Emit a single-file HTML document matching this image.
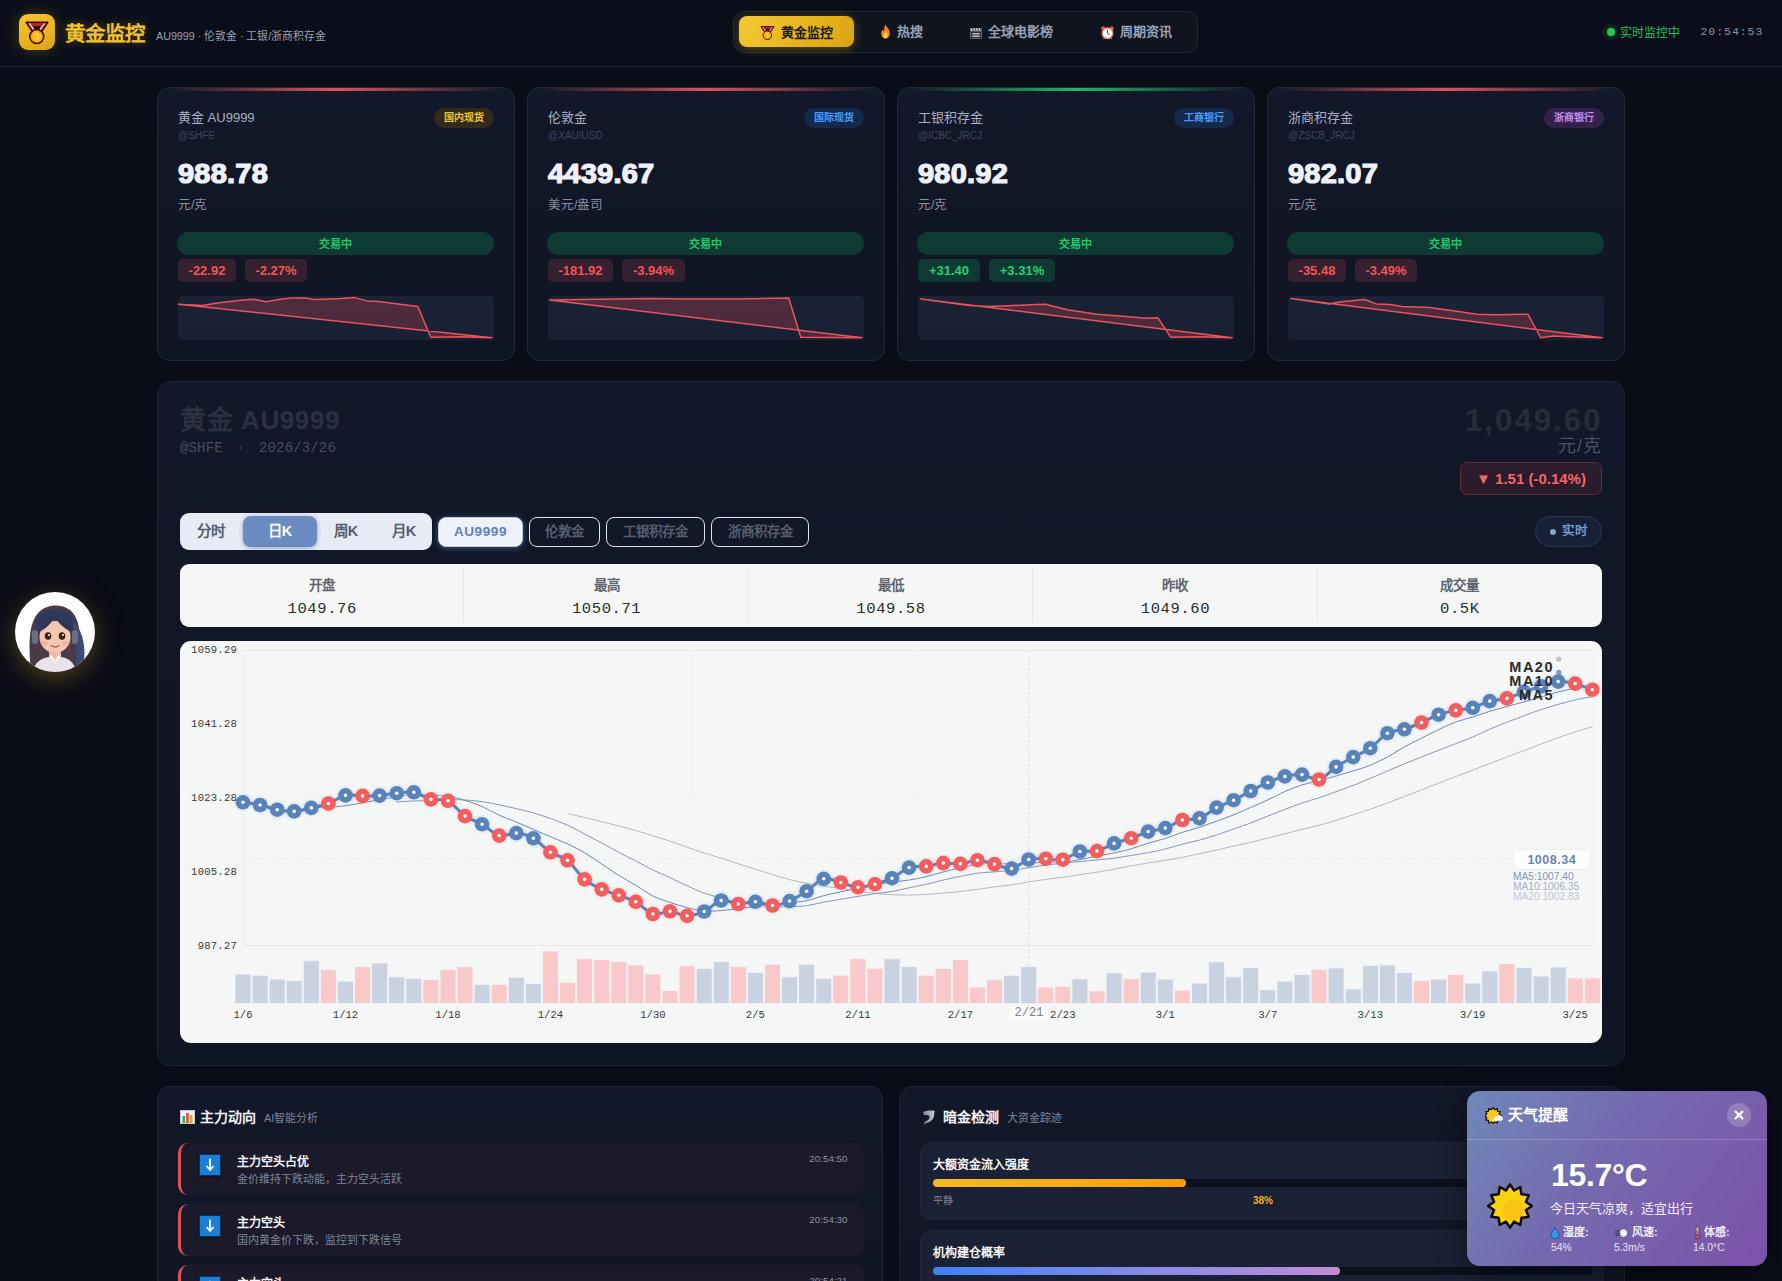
<!DOCTYPE html>
<html lang="zh-CN">
<head>
<meta charset="utf-8">
<title>黄金监控</title>
<style>
*{box-sizing:border-box;margin:0;padding:0}
html,body{width:1782px;height:1281px;overflow:hidden;background:#0a0c18}
body{font-family:"Liberation Sans",sans-serif;color:#e6e9f2;position:relative}
.abs{position:absolute}
.mono{font-family:"Liberation Mono",monospace}
/* header */
.hdr{position:absolute;left:0;top:0;width:1782px;height:67px;background:#0b0e1a;border-bottom:1px solid #1e2233}
.logo{position:absolute;left:19px;top:14px;width:36px;height:36px;border-radius:9px;background:linear-gradient(160deg,#f3c537 0%,#eab21f 60%,#dca315 100%);box-shadow:0 0 14px rgba(234,179,8,.28)}
.title{position:absolute;left:64.5px;top:20px;font-size:20.5px;font-weight:700;color:#f2c230;letter-spacing:0;text-shadow:0 0 10px rgba(242,194,48,.3);line-height:28px;white-space:nowrap}
.subtitle{position:absolute;left:156px;top:28px;font-size:10.8px;letter-spacing:-.05px;color:#9aa1b4;line-height:16px;white-space:nowrap}
.nav{position:absolute;left:733px;top:11px;width:465px;height:42px;border-radius:11px;background:#10141f;border:1px solid #232838}
.tab{position:absolute;top:4px;height:32px;line-height:32px;font-size:13px;font-weight:700;color:#98a0b5;white-space:nowrap}
.tab.on{left:5px;width:115px;height:31px;line-height:31px;border-radius:8px;background:linear-gradient(120deg,#f4c935,#e3ae17 70%,#d9a414);color:#1a1a1a;box-shadow:0 2px 10px rgba(234,179,8,.35)}
.tab svg{position:absolute}
.live{position:absolute;left:1620px;top:24.5px;font-size:12px;color:#21c063;line-height:16px;white-space:nowrap}
.livedot{position:absolute;left:1607px;top:28px;width:8px;height:8px;border-radius:50%;background:#22c55e;box-shadow:0 0 6px rgba(34,197,94,.7)}
.clock{position:absolute;left:1700.5px;top:24px;font-size:11.5px;color:#8a90a0;line-height:16px;letter-spacing:.95px;white-space:nowrap}
/* price cards */
.card{position:absolute;top:87px;width:358px;height:274px;border-radius:12.5px;background:linear-gradient(180deg,#121829,#0f1524);border:1px solid #222939;overflow:hidden}
.card .bar{position:absolute;left:0;top:0;width:100%;height:3px}
.card .nm{position:absolute;left:20px;top:21px;font-size:13px;color:#a9b0c2;line-height:18px;white-space:nowrap}
.card .src{position:absolute;left:20px;top:42px;font-size:10px;color:#3f4659;line-height:12px;white-space:nowrap}
.card .badge{position:absolute;right:20px;top:20px;height:20px;line-height:20px;padding:0 10px;border-radius:10px;font-size:10px;font-weight:700;white-space:nowrap}
.card .px{position:absolute;left:20px;top:69px;font-size:27px;font-weight:700;color:#eef1fa;line-height:34px;letter-spacing:.2px;-webkit-text-stroke:1.2px #eef1fa;white-space:nowrap;transform:scaleX(1.075);transform-origin:0 50%}
.card .unit{position:absolute;left:20px;top:109px;font-size:12.5px;color:#8a91a4;line-height:16px}
.card .st{position:absolute;left:19px;top:144px;width:317px;height:23px;border-radius:12px;background:#0f3a33;color:#25c66b;font-size:11px;font-weight:700;text-align:center;line-height:24.5px}
.chip{position:absolute;top:171px;height:23px;line-height:24px;border-radius:5px;font-size:13px;font-weight:700;text-align:center;white-space:nowrap}
.chip.dn{background:#35202f;color:#f25557}
.chip.up{background:#0f3a33;color:#27cf70}
.spark{position:absolute;left:20px;top:208px;width:315.500px;height:44px;border-radius:5px;background:linear-gradient(180deg,#1a2235,#182133);overflow:hidden}
</style>
</head>
<body>
<!-- HEADER -->
<div class="hdr">
  <div class="logo"><svg width="28" height="28" viewBox="0 0 24 24" style="position:absolute;left:4px;top:4px"><path d="M2.700 3.700h18.600L15.400 12.600H8.600z" fill="#b3242c" stroke="#3a0d10" stroke-width="1.300" stroke-linejoin="round"/><path d="M5.400 4.600L9.900 11M18.600 4.600L14.300 10.400" stroke="#f9dcd8" stroke-width="1.100"/><path d="M8.900 6.900h6.200L13.600 10.300h-3.200z" fill="#2a090b"/><circle cx="11.800" cy="15.900" r="6" fill="#f4a614" stroke="#3a0d10" stroke-width="1.300"/><circle cx="11.800" cy="15.900" r="4.100" fill="#fbb91e"/><path d="M11 13.900l1.400-.6v5.200" stroke="#f9d766" stroke-width="1.200" fill="none"/></svg></div>
  <div class="title">黄金监控</div>
  <div class="subtitle">AU9999 · 伦敦金 · 工银/浙商积存金</div>
  <div class="nav">
    <div class="tab on"><span style="position:absolute;left:42px;top:.5px">黄金监控</span><svg width="17" height="17" viewBox="0 0 24 24" style="position:absolute;left:20px;top:8px"><path d="M2.700 3.700h18.600L15.400 12.600H8.600z" fill="#b3242c" stroke="#3a0d10" stroke-width="1.300" stroke-linejoin="round"/><path d="M5.400 4.600L9.900 11M18.600 4.600L14.300 10.400" stroke="#f9dcd8" stroke-width="1.100"/><path d="M8.900 6.900h6.200L13.600 10.300h-3.200z" fill="#2a090b"/><circle cx="11.800" cy="15.900" r="6" fill="#f4a614" stroke="#3a0d10" stroke-width="1.300"/><circle cx="11.800" cy="15.900" r="4.100" fill="#fbb91e"/><path d="M11 13.900l1.400-.6v5.200" stroke="#f9d766" stroke-width="1.200" fill="none"/></svg></div>
    <div class="tab" style="left:162.5px">热搜</div><svg width="13" height="15" viewBox="0 0 13 15" style="position:absolute;left:145px;top:12px"><path d="M6.5 0.5C7.5 3 10.8 5 10.8 9.2c0 3-2 5.3-4.3 5.3S2.2 12.2 2.2 9.4c0-1.8.9-3.1 1.7-4 .2 1 .7 1.6 1.2 1.8C5 5 5.400 2.500 6.5.5z" fill="#f4801f"/><path d="M6.500 7.200c.8 1.300 2.100 2.200 2.100 4.100 0 1.700-1 2.900-2.100 2.900s-2.100-1.200-2.100-2.700c0-1.700 1.400-2.600 2.100-4.300z" fill="#fdd13a"/></svg>
    <div class="tab" style="left:254px">全球电影榜</div><svg width="14" height="13" viewBox="0 0 14 13" style="position:absolute;left:235px;top:14px"><rect x="1.500" y="5.200" width="11" height="7.300" rx=".8" fill="#2b2e38" stroke="#8b909c" stroke-width=".6"/><path d="M1.500 2.200h11v2.600h-11z" fill="#e8eaee"/><path d="M3 2.200l1.600 2.600M5.800 2.200l1.600 2.600M8.600 2.200l1.600 2.600M11.300 2.200l1.200 2" stroke="#2b2e38" stroke-width="1.100"/><path d="M3.300 7.500h7.400M3.300 9h7.400M3.300 10.500h7.400" stroke="#dfe2e8" stroke-width=".8"/></svg>
    <div class="tab" style="left:386px">周期资讯</div><svg width="15" height="15" viewBox="0 0 15 15" style="position:absolute;left:366px;top:13px"><circle cx="3.200" cy="3.200" r="2" fill="#e8574f"/><circle cx="11.800" cy="3.200" r="2" fill="#e8574f"/><circle cx="7.500" cy="8.300" r="5.300" fill="#fbfbfc" stroke="#e98a80" stroke-width="1.300"/><path d="M7.500 5.300v3.100l1.800 1.100" stroke="#555" stroke-width="1" fill="none" stroke-linecap="round"/><path d="M3.600 13.900l1-1.300M11.400 13.900l-1-1.300" stroke="#e8766e" stroke-width="1.200"/></svg>
  </div>
  <div class="livedot"></div>
  <div class="live">实时监控中</div>
  <div class="clock mono">20:54:53</div>
</div>

<!-- PRICE CARDS -->
<div class="card" style="left:157px">
  <div class="bar" style="background:linear-gradient(90deg,transparent 3%,#e0525c 50%,transparent 97%)"></div>
  <div class="nm">黄金 AU9999</div><div class="src">@SHFE</div>
  <div class="badge" style="background:#302b1c;color:#f2c230">国内现货</div>
  <div class="px">988.78</div><div class="unit">元/克</div>
  <div class="st">交易中</div>
  <div class="chip dn" style="left:20px;width:58px">-22.92</div><div class="chip dn" style="left:87px;width:62px">-2.27%</div>
  <div class="spark"><svg width="317" height="45" viewBox="0 0 317 45" style="position:absolute;left:0;top:0;overflow:visible"><path d="M0.4,8.3 L24.6,9.4 L39.3,6.9 L60.9,4.5 L75.6,3.3 L88.4,5.7 L102.2,3.3 L114.0,2.0 L126.7,2.0 L137.5,3.5 L163.0,2.6 L176.8,1.6 L188.6,4.9 L200.4,5.5 L239.7,10.4 L252.8,41.3 L282.9,40.7 L314.3,41.8 Z" fill="rgba(226,75,85,.26)" stroke="#e9545b" stroke-width="1.5" stroke-linejoin="round"/></svg></div>
</div>
<div class="card" style="left:527px">
  <div class="bar" style="background:linear-gradient(90deg,transparent 3%,#e0525c 50%,transparent 97%)"></div>
  <div class="nm">伦敦金</div><div class="src">@XAU/USD</div>
  <div class="badge" style="background:#15294a;color:#4a9cf5">国际现货</div>
  <div class="px">4439.67</div><div class="unit">美元/盎司</div>
  <div class="st">交易中</div>
  <div class="chip dn" style="left:20px;width:65px">-181.92</div><div class="chip dn" style="left:94px;width:63px">-3.94%</div>
  <div class="spark"><svg width="317" height="45" viewBox="0 0 317 45" style="position:absolute;left:0;top:0;overflow:visible"><path d="M1.6,3.9 L51.0,3.3 L102.0,2.6 L137.5,2.9 L188.6,2.9 L240.7,2.0 L252.8,41.3 L314.3,41.8 Z" fill="rgba(226,75,85,.26)" stroke="#e9545b" stroke-width="1.5" stroke-linejoin="round"/></svg></div>
</div>
<div class="card" style="left:897px">
  <div class="bar" style="background:linear-gradient(90deg,transparent 3%,#22b867 50%,transparent 97%)"></div>
  <div class="nm">工银积存金</div><div class="src">@ICBC_JRCJ</div>
  <div class="badge" style="background:#15294a;color:#4a9cf5">工商银行</div>
  <div class="px">980.92</div><div class="unit">元/克</div>
  <div class="st">交易中</div>
  <div class="chip up" style="left:20px;width:62px">+31.40</div><div class="chip up" style="left:91px;width:66px">+3.31%</div>
  <div class="spark"><svg width="317" height="45" viewBox="0 0 317 45" style="position:absolute;left:0;top:0;overflow:visible"><path d="M2.9,2.9 L51.0,9.4 L70.7,10.4 L90.4,9.8 L117.9,8.4 L127.7,8.3 L149.3,13.8 L178.8,18.3 L208.3,20.6 L227.9,22.2 L240.0,21.8 L252.8,41.3 L282.9,40.7 L314.3,41.8 Z" fill="rgba(226,75,85,.26)" stroke="#e9545b" stroke-width="1.5" stroke-linejoin="round"/></svg></div>
</div>
<div class="card" style="left:1267px">
  <div class="bar" style="background:linear-gradient(90deg,transparent 3%,#e0525c 50%,transparent 97%)"></div>
  <div class="nm">浙商积存金</div><div class="src">@ZSCB_JRCJ</div>
  <div class="badge" style="background:#33214a;color:#c78af0">浙商银行</div>
  <div class="px">982.07</div><div class="unit">元/克</div>
  <div class="st">交易中</div>
  <div class="chip dn" style="left:20px;width:58px">-35.48</div><div class="chip dn" style="left:87px;width:62px">-3.49%</div>
  <div class="spark"><svg width="317" height="45" viewBox="0 0 317 45" style="position:absolute;left:0;top:0;overflow:visible"><path d="M2.9,2.6 L41.3,7.9 L51.0,5.9 L76.6,3.5 L88.4,7.9 L102.2,8.4 L114.0,10.4 L141.5,11.4 L169.0,15.3 L188.6,18.3 L208.3,18.7 L240.0,18.3 L252.8,41.8 L265.2,39.9 L282.9,40.7 L314.3,41.8 Z" fill="rgba(226,75,85,.26)" stroke="#e9545b" stroke-width="1.5" stroke-linejoin="round"/></svg></div>
</div>

<!-- MAIN CHART PANEL -->
<style>
.panel{position:absolute;left:157px;top:381px;width:1468px;height:685px;border-radius:13.5px;background:linear-gradient(180deg,#121829,#0f1524);border:1px solid #1c2334}
.ptitle{position:absolute;left:22px;top:22px;font-size:26px;font-weight:700;color:#2b3042;line-height:32px;letter-spacing:.6px;white-space:nowrap}
.psub{position:absolute;left:22px;top:57px;font-size:14px;color:#474d5f;line-height:18px;letter-spacing:.15px;white-space:pre}
.psub span{position:absolute;top:0}
.pprice{position:absolute;right:23.500px;top:21px;font-size:31px;font-weight:700;color:#252d39;line-height:36px;letter-spacing:2.1px;margin-right:-2px;white-space:nowrap}
.punit{position:absolute;right:22px;top:52.500px;font-size:18px;color:#4b5161;line-height:22px;letter-spacing:1px}
.pchg{position:absolute;left:1302px;top:80px;width:142px;height:33px;border-radius:7px;background:linear-gradient(180deg,#2d1c2c,#2a1a2a);border:1px solid #5b2b39;color:#f2666a;font-size:15px;font-weight:700;line-height:31.500px;text-align:center;white-space:nowrap}
.seg{position:absolute;left:22px;top:131px;width:252px;height:37px;border-radius:9px;background:#e6ebf6}
.seg span{position:absolute;top:0;height:37px;line-height:37px;font-size:14.5px;font-weight:700;color:#555d6e;text-align:center}
.seg .on{left:63px;top:3px;width:74px;height:31px;line-height:31px;border-radius:8px;background:#6a8cc3;color:#fff;box-shadow:0 1px 4px rgba(60,90,150,.5)}
.sbtn{position:absolute;top:134.500px;height:30.500px;line-height:28.500px;border-radius:8px;border:1px solid #dfe3ea;color:#565d6d;font-size:13.5px;font-weight:700;text-align:center;white-space:nowrap}
.sbtn.on{background:#eef2fb;border:1px solid #b9c9e8;color:#5f80bb;box-shadow:0 0 0 1px #fff inset,0 1px 6px rgba(120,150,210,.5);letter-spacing:.6px}
.rt{position:absolute;left:1377px;top:133.500px;width:67px;height:31.500px;border-radius:16px;background:#162138;border:1px solid #2a3650;color:#7b98cc;font-size:12.5px;font-weight:700;line-height:29px;white-space:nowrap}
.stats{position:absolute;left:22px;top:182px;width:1422px;height:63px;border-radius:9px;background:#f5f6f6;display:flex}
.stats div{flex:1;text-align:center;position:relative}
.stats div:after{content:"";position:absolute;right:0;top:4px;bottom:4px;width:1px;background:#e6e8eb}
.stats div:last-child:after{display:none}
.stats b{position:absolute;left:0;right:0;top:13px;font-size:13.5px;color:#60656f;line-height:18px}
.stats i{position:absolute;left:0;right:0;top:34.700px;font-style:normal;font-size:15.5px;color:#2a2d33;line-height:20px;letter-spacing:.6px}
.chart{position:absolute;left:22px;top:259px;width:1422px;height:402px;border-radius:11px;background:#f5f6f6;overflow:hidden}
.chartsvg{position:absolute;left:0;top:0}
.yl{position:absolute;left:0;width:57px;text-align:right;font-size:10.6px;color:#3a3a3a;line-height:12px;letter-spacing:.2px}
.xl{position:absolute;top:368px;width:40px;margin-left:-20px;text-align:center;font-size:10.6px;color:#3a3a3a;line-height:12px}
.mal{position:absolute;right:48px;font-size:14.5px;font-weight:700;color:#2c2c2c;line-height:14px;letter-spacing:1.500px;white-space:nowrap}
</style>
<div class="panel">
  <div class="ptitle">黄金 AU9999</div>
  <div class="psub mono"><span style="left:0">@SHFE</span><span style="left:56px">·</span><span style="left:79px">2026/3/26</span></div>
  <div class="pprice">1,049.60</div>
  <div class="punit">元/克</div>
  <div class="pchg">▼ 1.51 (-0.14%)</div>
  <div class="seg"><span style="left:0;width:62px">分时</span><span class="on">日K</span><span style="left:137px;width:58px">周K</span><span style="left:195px;width:58px">月K</span></div>
  <div class="sbtn on" style="left:280px;width:85px">AU9999</div>
  <div class="sbtn" style="left:371px;width:71px">伦敦金</div>
  <div class="sbtn" style="left:448px;width:99px">工银积存金</div>
  <div class="sbtn" style="left:553px;width:98px">浙商积存金</div>
  <div class="rt"><span style="position:absolute;left:14px;top:12px;width:6px;height:6px;border-radius:50%;background:#8aa0c8"></span><span style="position:absolute;left:26px;top:0">实时</span></div>
  <div class="stats">
    <div><b>开盘</b><i class="mono">1049.76</i></div>
    <div><b>最高</b><i class="mono">1050.71</i></div>
    <div><b>最低</b><i class="mono">1049.58</i></div>
    <div><b>昨收</b><i class="mono">1049.60</i></div>
    <div><b>成交量</b><i class="mono">0.5K</i></div>
  </div>
  <div class="chart">
    <svg class="chartsvg" width="1421" height="401" viewBox="0 0 1421 401">
<line x1="63" y1="9.5" x2="1413" y2="9.5" stroke="#e6e8ea" stroke-width="1"/>
<line x1="63" y1="304.5" x2="1413" y2="304.5" stroke="#e6e8ea" stroke-width="1"/>
<line x1="510" y1="157" x2="1413" y2="157" stroke="#eff0f2" stroke-width="1"/>
<line x1="63" y1="9" x2="63" y2="304" stroke="#eceef0" stroke-width="1"/>
<line x1="513" y1="9" x2="513" y2="157" stroke="#eef0f2" stroke-width="1"/>
<line x1="738" y1="9" x2="738" y2="157" stroke="#eef0f2" stroke-width="1"/>
<line x1="1413" y1="9" x2="1413" y2="304" stroke="#eef0f2" stroke-width="1"/>
<line x1="849" y1="9" x2="849" y2="362" stroke="#e0e2e7" stroke-width="1.2" stroke-dasharray="3 3"/>
<line x1="63" y1="218" x2="1333" y2="218" stroke="#e4e6ea" stroke-width="1.2" stroke-dasharray="3 3"/>
<rect x="55.0" y="333.0" width="16" height="29.5" fill="#c9d2e1" stroke="#f1f2f4" stroke-width="1"/>
<rect x="72.1" y="334.2" width="16" height="28.3" fill="#c9d2e1" stroke="#f1f2f4" stroke-width="1"/>
<rect x="89.2" y="338.1" width="16" height="24.4" fill="#c9d2e1" stroke="#f1f2f4" stroke-width="1"/>
<rect x="106.2" y="339.7" width="16" height="22.8" fill="#c9d2e1" stroke="#f1f2f4" stroke-width="1"/>
<rect x="123.3" y="319.7" width="16" height="42.8" fill="#c9d2e1" stroke="#f1f2f4" stroke-width="1"/>
<rect x="140.4" y="328.7" width="16" height="33.8" fill="#f9c9ca" stroke="#f1f2f4" stroke-width="1"/>
<rect x="157.5" y="340.1" width="16" height="22.4" fill="#c9d2e1" stroke="#f1f2f4" stroke-width="1"/>
<rect x="174.6" y="325.6" width="16" height="36.9" fill="#f9c9ca" stroke="#f1f2f4" stroke-width="1"/>
<rect x="191.6" y="322.0" width="16" height="40.5" fill="#c9d2e1" stroke="#f1f2f4" stroke-width="1"/>
<rect x="208.7" y="335.8" width="16" height="26.7" fill="#c9d2e1" stroke="#f1f2f4" stroke-width="1"/>
<rect x="225.8" y="337.4" width="16" height="25.1" fill="#c9d2e1" stroke="#f1f2f4" stroke-width="1"/>
<rect x="242.9" y="338.5" width="16" height="24.0" fill="#f9c9ca" stroke="#f1f2f4" stroke-width="1"/>
<rect x="260.0" y="328.7" width="16" height="33.8" fill="#f9c9ca" stroke="#f1f2f4" stroke-width="1"/>
<rect x="277.0" y="325.6" width="16" height="36.9" fill="#f9c9ca" stroke="#f1f2f4" stroke-width="1"/>
<rect x="294.1" y="343.6" width="16" height="18.9" fill="#c9d2e1" stroke="#f1f2f4" stroke-width="1"/>
<rect x="311.2" y="343.3" width="16" height="19.2" fill="#f9c9ca" stroke="#f1f2f4" stroke-width="1"/>
<rect x="328.3" y="336.2" width="16" height="26.3" fill="#c9d2e1" stroke="#f1f2f4" stroke-width="1"/>
<rect x="345.4" y="342.5" width="16" height="20.0" fill="#c9d2e1" stroke="#f1f2f4" stroke-width="1"/>
<rect x="362.4" y="309.9" width="16" height="52.6" fill="#f9c9ca" stroke="#f1f2f4" stroke-width="1"/>
<rect x="379.5" y="341.3" width="16" height="21.2" fill="#f9c9ca" stroke="#f1f2f4" stroke-width="1"/>
<rect x="396.6" y="317.7" width="16" height="44.8" fill="#f9c9ca" stroke="#f1f2f4" stroke-width="1"/>
<rect x="413.7" y="318.5" width="16" height="44.0" fill="#f9c9ca" stroke="#f1f2f4" stroke-width="1"/>
<rect x="430.8" y="320.5" width="16" height="42.0" fill="#f9c9ca" stroke="#f1f2f4" stroke-width="1"/>
<rect x="447.8" y="324.0" width="16" height="38.5" fill="#f9c9ca" stroke="#f1f2f4" stroke-width="1"/>
<rect x="464.9" y="333.0" width="16" height="29.5" fill="#f9c9ca" stroke="#f1f2f4" stroke-width="1"/>
<rect x="482.0" y="349.5" width="16" height="13.0" fill="#f9c9ca" stroke="#f1f2f4" stroke-width="1"/>
<rect x="499.1" y="324.8" width="16" height="37.7" fill="#f9c9ca" stroke="#f1f2f4" stroke-width="1"/>
<rect x="516.2" y="327.5" width="16" height="35.0" fill="#c9d2e1" stroke="#f1f2f4" stroke-width="1"/>
<rect x="533.2" y="320.5" width="16" height="42.0" fill="#c9d2e1" stroke="#f1f2f4" stroke-width="1"/>
<rect x="550.3" y="325.6" width="16" height="36.9" fill="#f9c9ca" stroke="#f1f2f4" stroke-width="1"/>
<rect x="567.4" y="331.5" width="16" height="31.0" fill="#c9d2e1" stroke="#f1f2f4" stroke-width="1"/>
<rect x="584.5" y="323.2" width="16" height="39.3" fill="#f9c9ca" stroke="#f1f2f4" stroke-width="1"/>
<rect x="601.6" y="335.8" width="16" height="26.7" fill="#c9d2e1" stroke="#f1f2f4" stroke-width="1"/>
<rect x="618.6" y="323.2" width="16" height="39.3" fill="#c9d2e1" stroke="#f1f2f4" stroke-width="1"/>
<rect x="635.7" y="337.4" width="16" height="25.1" fill="#c9d2e1" stroke="#f1f2f4" stroke-width="1"/>
<rect x="652.8" y="334.2" width="16" height="28.3" fill="#f9c9ca" stroke="#f1f2f4" stroke-width="1"/>
<rect x="669.9" y="317.7" width="16" height="44.8" fill="#f9c9ca" stroke="#f1f2f4" stroke-width="1"/>
<rect x="687.0" y="327.2" width="16" height="35.3" fill="#f9c9ca" stroke="#f1f2f4" stroke-width="1"/>
<rect x="704.0" y="317.7" width="16" height="44.8" fill="#c9d2e1" stroke="#f1f2f4" stroke-width="1"/>
<rect x="721.1" y="325.6" width="16" height="36.9" fill="#c9d2e1" stroke="#f1f2f4" stroke-width="1"/>
<rect x="738.2" y="334.2" width="16" height="28.3" fill="#f9c9ca" stroke="#f1f2f4" stroke-width="1"/>
<rect x="755.3" y="327.5" width="16" height="35.0" fill="#f9c9ca" stroke="#f1f2f4" stroke-width="1"/>
<rect x="772.4" y="318.5" width="16" height="44.0" fill="#f9c9ca" stroke="#f1f2f4" stroke-width="1"/>
<rect x="789.4" y="346.0" width="16" height="16.5" fill="#f9c9ca" stroke="#f1f2f4" stroke-width="1"/>
<rect x="806.5" y="338.9" width="16" height="23.6" fill="#f9c9ca" stroke="#f1f2f4" stroke-width="1"/>
<rect x="823.6" y="334.2" width="16" height="28.3" fill="#c9d2e1" stroke="#f1f2f4" stroke-width="1"/>
<rect x="840.7" y="325.6" width="16" height="36.9" fill="#c9d2e1" stroke="#f1f2f4" stroke-width="1"/>
<rect x="857.8" y="346.0" width="16" height="16.5" fill="#f9c9ca" stroke="#f1f2f4" stroke-width="1"/>
<rect x="874.8" y="345.2" width="16" height="17.3" fill="#f9c9ca" stroke="#f1f2f4" stroke-width="1"/>
<rect x="891.9" y="337.8" width="16" height="24.7" fill="#c9d2e1" stroke="#f1f2f4" stroke-width="1"/>
<rect x="909.0" y="349.9" width="16" height="12.6" fill="#f9c9ca" stroke="#f1f2f4" stroke-width="1"/>
<rect x="926.1" y="331.9" width="16" height="30.6" fill="#c9d2e1" stroke="#f1f2f4" stroke-width="1"/>
<rect x="943.2" y="337.8" width="16" height="24.7" fill="#f9c9ca" stroke="#f1f2f4" stroke-width="1"/>
<rect x="960.2" y="331.1" width="16" height="31.4" fill="#c9d2e1" stroke="#f1f2f4" stroke-width="1"/>
<rect x="977.3" y="338.1" width="16" height="24.4" fill="#c9d2e1" stroke="#f1f2f4" stroke-width="1"/>
<rect x="994.4" y="349.1" width="16" height="13.4" fill="#f9c9ca" stroke="#f1f2f4" stroke-width="1"/>
<rect x="1011.5" y="342.1" width="16" height="20.4" fill="#c9d2e1" stroke="#f1f2f4" stroke-width="1"/>
<rect x="1028.6" y="320.9" width="16" height="41.6" fill="#c9d2e1" stroke="#f1f2f4" stroke-width="1"/>
<rect x="1045.6" y="335.8" width="16" height="26.7" fill="#c9d2e1" stroke="#f1f2f4" stroke-width="1"/>
<rect x="1062.7" y="326.4" width="16" height="36.1" fill="#c9d2e1" stroke="#f1f2f4" stroke-width="1"/>
<rect x="1079.8" y="348.8" width="16" height="13.7" fill="#c9d2e1" stroke="#f1f2f4" stroke-width="1"/>
<rect x="1096.9" y="340.1" width="16" height="22.4" fill="#c9d2e1" stroke="#f1f2f4" stroke-width="1"/>
<rect x="1114.0" y="333.5" width="16" height="29.0" fill="#c9d2e1" stroke="#f1f2f4" stroke-width="1"/>
<rect x="1131.0" y="328.3" width="16" height="34.2" fill="#f9c9ca" stroke="#f1f2f4" stroke-width="1"/>
<rect x="1148.1" y="326.8" width="16" height="35.7" fill="#c9d2e1" stroke="#f1f2f4" stroke-width="1"/>
<rect x="1165.2" y="348.0" width="16" height="14.5" fill="#c9d2e1" stroke="#f1f2f4" stroke-width="1"/>
<rect x="1182.3" y="324.4" width="16" height="38.1" fill="#c9d2e1" stroke="#f1f2f4" stroke-width="1"/>
<rect x="1199.4" y="324.0" width="16" height="38.5" fill="#c9d2e1" stroke="#f1f2f4" stroke-width="1"/>
<rect x="1216.4" y="331.5" width="16" height="31.0" fill="#c9d2e1" stroke="#f1f2f4" stroke-width="1"/>
<rect x="1233.5" y="339.7" width="16" height="22.8" fill="#f9c9ca" stroke="#f1f2f4" stroke-width="1"/>
<rect x="1250.6" y="338.1" width="16" height="24.4" fill="#c9d2e1" stroke="#f1f2f4" stroke-width="1"/>
<rect x="1267.7" y="333.5" width="16" height="29.0" fill="#f9c9ca" stroke="#f1f2f4" stroke-width="1"/>
<rect x="1284.8" y="342.1" width="16" height="20.4" fill="#c9d2e1" stroke="#f1f2f4" stroke-width="1"/>
<rect x="1301.8" y="329.9" width="16" height="32.6" fill="#c9d2e1" stroke="#f1f2f4" stroke-width="1"/>
<rect x="1318.9" y="322.5" width="16" height="40.0" fill="#f9c9ca" stroke="#f1f2f4" stroke-width="1"/>
<rect x="1336.0" y="326.4" width="16" height="36.1" fill="#c9d2e1" stroke="#f1f2f4" stroke-width="1"/>
<rect x="1353.1" y="335.0" width="16" height="27.5" fill="#c9d2e1" stroke="#f1f2f4" stroke-width="1"/>
<rect x="1370.2" y="326.0" width="16" height="36.5" fill="#c9d2e1" stroke="#f1f2f4" stroke-width="1"/>
<rect x="1387.2" y="337.0" width="16" height="25.5" fill="#f9c9ca" stroke="#f1f2f4" stroke-width="1"/>
<rect x="1404.3" y="337.0" width="16" height="25.5" fill="#f9c9ca" stroke="#f1f2f4" stroke-width="1"/>
<path d="M387.5,172.6C390.4,173.3 398.9,175.1 404.6,176.5C410.3,177.8 416.0,179.3 421.7,180.7C427.4,182.1 433.1,183.5 438.8,185.0C444.5,186.4 450.1,187.9 455.8,189.5C461.5,191.1 467.2,193.0 472.9,194.8C478.6,196.6 484.3,198.3 490.0,200.2C495.7,202.1 501.4,204.2 507.1,206.2C512.8,208.2 518.5,210.2 524.2,212.0C529.9,213.8 535.5,215.4 541.2,217.2C546.9,219.0 552.6,220.9 558.3,222.8C564.0,224.6 569.7,226.5 575.4,228.2C581.1,230.0 586.8,231.8 592.5,233.6C598.2,235.3 603.9,237.1 609.6,238.6C615.3,240.0 620.9,241.2 626.6,242.3C632.3,243.4 638.0,244.2 643.7,245.1C649.4,245.9 655.1,246.6 660.8,247.4C666.5,248.2 672.2,249.3 677.9,250.1C683.6,250.9 689.3,251.8 695.0,252.4C700.7,253.0 706.3,253.4 712.0,253.7C717.7,254.0 723.4,254.1 729.1,254.1C734.8,254.0 740.5,253.7 746.2,253.4C751.9,253.1 757.6,252.6 763.3,252.1C769.0,251.6 774.7,251.1 780.4,250.5C786.1,249.9 791.7,249.2 797.4,248.4C803.1,247.7 808.8,246.7 814.5,245.9C820.2,245.2 825.9,244.6 831.6,243.8C837.3,243.0 843.0,241.9 848.7,241.0C854.4,240.1 860.1,239.1 865.8,238.4C871.5,237.6 877.1,237.1 882.8,236.3C888.5,235.5 894.2,234.6 899.9,233.7C905.6,232.8 911.3,232.1 917.0,231.2C922.7,230.2 928.4,229.1 934.1,228.1C939.8,227.0 945.5,225.9 951.2,224.9C956.9,223.9 962.5,222.8 968.2,221.9C973.9,221.0 979.6,220.3 985.3,219.4C991.0,218.5 996.7,217.4 1002.4,216.3C1008.1,215.2 1013.8,214.0 1019.5,212.8C1025.2,211.6 1030.9,210.3 1036.6,209.0C1042.3,207.7 1047.9,206.4 1053.6,205.1C1059.3,203.8 1065.0,202.6 1070.7,201.3C1076.4,199.9 1082.1,198.5 1087.8,197.1C1093.5,195.6 1099.2,194.2 1104.9,192.7C1110.6,191.3 1116.3,189.7 1122.0,188.3C1127.7,186.9 1133.3,185.7 1139.0,184.2C1144.7,182.8 1150.4,181.1 1156.1,179.4C1161.8,177.6 1167.5,175.7 1173.2,173.8C1178.9,171.9 1184.6,170.2 1190.3,168.2C1196.0,166.3 1201.7,164.1 1207.4,162.0C1213.1,159.8 1218.7,157.6 1224.4,155.4C1230.1,153.3 1235.8,151.2 1241.5,149.0C1247.2,146.8 1252.9,144.4 1258.6,142.2C1264.3,139.9 1270.0,137.7 1275.7,135.5C1281.4,133.3 1287.1,131.2 1292.8,129.0C1298.5,126.8 1304.1,124.6 1309.8,122.5C1315.5,120.3 1321.2,118.1 1326.9,116.0C1332.6,113.8 1338.3,111.8 1344.0,109.6C1349.7,107.4 1355.4,105.1 1361.1,103.0C1366.8,100.8 1372.5,98.7 1378.2,96.7C1383.9,94.7 1389.5,92.7 1395.2,90.9C1400.9,89.0 1409.5,86.6 1412.3,85.8" fill="none" stroke="#b4bac4" stroke-width="1"/>
<path d="M216.7,161.0C219.6,160.8 228.1,160.2 233.8,160.0C239.5,159.7 245.2,159.7 250.9,159.4C256.6,159.2 262.3,158.6 268.0,158.5C273.7,158.5 279.3,158.7 285.0,159.0C290.7,159.4 296.4,159.8 302.1,160.6C307.8,161.4 313.5,162.7 319.2,163.8C324.9,165.0 330.6,166.3 336.3,167.6C342.0,169.0 347.7,170.2 353.4,171.9C359.1,173.5 364.7,175.5 370.4,177.5C376.1,179.6 381.8,181.7 387.5,184.2C393.2,186.8 398.9,190.0 404.6,193.0C410.3,195.9 416.0,198.9 421.7,202.0C427.4,205.0 433.1,208.4 438.8,211.4C444.5,214.4 450.1,217.1 455.8,220.0C461.5,222.9 467.2,226.2 472.9,229.0C478.6,231.7 484.3,233.9 490.0,236.5C495.7,239.2 501.4,242.2 507.1,244.8C512.8,247.4 518.5,250.1 524.2,252.1C529.9,254.1 535.5,255.4 541.2,256.9C546.9,258.5 552.6,260.2 558.3,261.3C564.0,262.4 569.7,262.9 575.4,263.5C581.1,264.2 586.8,264.8 592.5,265.1C598.2,265.5 603.9,265.8 609.6,265.7C615.3,265.6 620.9,265.4 626.6,264.7C632.3,263.9 638.0,262.2 643.7,261.1C649.4,260.1 655.1,259.2 660.8,258.3C666.5,257.3 672.2,256.3 677.9,255.4C683.6,254.5 689.3,253.5 695.0,252.7C700.7,251.9 706.3,251.4 712.0,250.5C717.7,249.5 723.4,248.0 729.1,246.8C734.8,245.6 740.5,244.6 746.2,243.3C751.9,242.0 757.6,240.4 763.3,239.0C769.0,237.7 774.7,236.5 780.4,235.3C786.1,234.2 791.7,233.0 797.4,232.2C803.1,231.5 808.8,231.2 814.5,230.8C820.2,230.3 825.9,230.1 831.6,229.4C837.3,228.7 843.0,227.5 848.7,226.6C854.4,225.7 860.1,224.8 865.8,224.0C871.5,223.3 877.1,222.8 882.8,222.2C888.5,221.6 894.2,221.1 899.9,220.6C905.6,220.0 911.3,219.6 917.0,219.0C922.7,218.5 928.4,217.8 934.1,217.1C939.8,216.3 945.5,215.4 951.2,214.5C956.9,213.6 962.5,212.7 968.2,211.6C973.9,210.6 979.6,209.5 985.3,208.0C991.0,206.6 996.7,204.7 1002.4,203.2C1008.1,201.7 1013.8,200.6 1019.5,199.1C1025.2,197.5 1030.9,195.8 1036.6,194.0C1042.3,192.1 1047.9,190.0 1053.6,188.0C1059.3,186.0 1065.0,184.1 1070.7,182.0C1076.4,179.8 1082.1,177.4 1087.8,175.1C1093.5,172.8 1099.2,170.6 1104.9,168.4C1110.6,166.2 1116.3,164.0 1122.0,162.0C1127.7,160.1 1133.3,158.7 1139.0,156.8C1144.7,154.9 1150.4,152.8 1156.1,150.7C1161.8,148.6 1167.5,146.6 1173.2,144.4C1178.9,142.2 1184.6,139.8 1190.3,137.4C1196.0,135.0 1201.7,132.4 1207.4,130.0C1213.1,127.5 1218.7,125.2 1224.4,122.9C1230.1,120.5 1235.8,118.3 1241.5,116.0C1247.2,113.8 1252.9,111.5 1258.6,109.2C1264.3,107.0 1270.0,104.9 1275.7,102.7C1281.4,100.4 1287.1,98.4 1292.8,96.0C1298.5,93.5 1304.1,90.6 1309.8,88.1C1315.5,85.7 1321.2,83.5 1326.9,81.3C1332.6,79.1 1338.3,76.9 1344.0,74.8C1349.7,72.6 1355.4,70.5 1361.1,68.6C1366.8,66.7 1372.5,65.0 1378.2,63.4C1383.9,61.8 1389.5,60.2 1395.2,58.9C1400.9,57.5 1409.5,56.1 1412.3,55.6" fill="none" stroke="#8797b5" stroke-width="1"/>
<path d="M131.3,166.3C134.2,166.3 142.7,166.8 148.4,166.5C154.1,166.2 159.8,165.4 165.5,164.6C171.2,163.8 176.9,162.8 182.6,161.8C188.3,160.8 193.9,159.7 199.6,158.7C205.3,157.6 211.0,156.6 216.7,155.7C222.4,154.9 228.1,153.7 233.8,153.5C239.5,153.2 245.2,154.0 250.9,154.3C256.6,154.6 262.3,154.4 268.0,155.3C273.7,156.1 279.3,157.6 285.0,159.4C290.7,161.1 296.4,163.1 302.1,165.6C307.8,168.0 313.5,171.7 319.2,174.2C324.9,176.8 330.6,178.6 336.3,181.0C342.0,183.3 347.7,186.0 353.4,188.5C359.1,190.9 364.7,193.3 370.4,195.7C376.1,198.1 381.8,200.3 387.5,202.9C393.2,205.6 398.9,208.4 404.6,211.7C410.3,215.0 416.0,219.2 421.7,223.0C427.4,226.7 433.1,230.8 438.8,234.4C444.5,237.9 450.1,240.8 455.8,244.3C461.5,247.7 467.2,252.1 472.9,255.0C478.6,257.8 484.3,259.4 490.0,261.4C495.7,263.3 501.4,265.2 507.1,266.6C512.8,268.1 518.5,269.4 524.2,269.9C529.9,270.4 535.5,270.0 541.2,269.6C546.9,269.2 552.6,268.3 558.3,267.6C564.0,267.0 569.7,266.4 575.4,265.7C581.1,265.1 586.8,264.3 592.5,263.7C598.2,263.0 603.9,262.2 609.6,261.6C615.3,260.9 620.9,260.9 626.6,259.7C632.3,258.6 638.0,256.2 643.7,254.7C649.4,253.2 655.1,252.1 660.8,250.8C666.5,249.6 672.2,248.3 677.9,247.2C683.6,246.0 689.3,244.8 695.0,243.8C700.7,242.8 706.3,242.0 712.0,241.2C717.7,240.4 723.4,239.9 729.1,239.0C734.8,238.1 740.5,237.1 746.2,235.7C751.9,234.4 757.6,232.4 763.3,230.9C769.0,229.4 774.7,228.1 780.4,226.8C786.1,225.6 791.7,224.0 797.4,223.2C803.1,222.5 808.8,222.6 814.5,222.5C820.2,222.5 825.9,223.0 831.6,223.0C837.3,222.9 843.0,222.6 848.7,222.3C854.4,222.0 860.1,221.4 865.8,221.2C871.5,221.0 877.1,221.6 882.8,221.1C888.5,220.7 894.2,219.6 899.9,218.6C905.6,217.6 911.3,216.2 917.0,215.1C922.7,214.0 928.4,213.1 934.1,211.9C939.8,210.7 945.5,209.4 951.2,207.8C956.9,206.2 962.5,203.9 968.2,202.2C973.9,200.4 979.6,199.3 985.3,197.5C991.0,195.7 996.7,193.1 1002.4,191.3C1008.1,189.4 1013.8,188.1 1019.5,186.3C1025.2,184.4 1030.9,182.2 1036.6,180.1C1042.3,178.1 1047.9,176.1 1053.6,173.9C1059.3,171.6 1065.0,168.9 1070.7,166.4C1076.4,164.0 1082.1,161.6 1087.8,158.9C1093.5,156.3 1099.2,153.0 1104.9,150.5C1110.6,148.0 1116.3,145.7 1122.0,143.9C1127.7,142.2 1133.3,141.3 1139.0,139.8C1144.7,138.3 1150.4,136.6 1156.1,135.0C1161.8,133.3 1167.5,131.7 1173.2,129.9C1178.9,128.1 1184.6,126.6 1190.3,124.3C1196.0,121.9 1201.7,119.0 1207.4,116.0C1213.1,112.9 1218.7,109.1 1224.4,105.9C1230.1,102.8 1235.8,100.0 1241.5,97.1C1247.2,94.2 1252.9,91.3 1258.6,88.6C1264.3,85.9 1270.0,83.1 1275.7,81.0C1281.4,78.9 1287.1,77.7 1292.8,76.0C1298.5,74.2 1304.1,72.1 1309.8,70.3C1315.5,68.6 1321.2,67.0 1326.9,65.5C1332.6,63.9 1338.3,62.5 1344.0,60.9C1349.7,59.4 1355.4,57.8 1361.1,56.1C1366.8,54.4 1372.5,52.3 1378.2,50.9C1383.9,49.4 1389.5,48.3 1395.2,47.4C1400.9,46.5 1409.5,45.9 1412.3,45.6" fill="none" stroke="#6f88b8" stroke-width="1"/>
<path d="M63.0,161.3C65.8,161.7 74.4,162.8 80.1,164.0C85.8,165.2 91.5,167.6 97.2,168.7C102.9,169.8 108.5,170.7 114.2,170.4C119.9,170.1 125.6,168.2 131.3,166.9C137.0,165.6 142.7,164.6 148.4,162.5C154.1,160.4 159.8,155.7 165.5,154.4C171.2,153.1 176.9,154.9 182.6,154.9C188.3,154.9 193.9,155.1 199.6,154.6C205.3,154.2 211.0,152.8 216.7,152.2C222.4,151.7 228.1,150.3 233.8,151.3C239.5,152.3 245.2,157.0 250.9,158.4C256.6,159.8 262.3,157.0 268.0,159.8C273.7,162.6 279.3,171.2 285.0,175.1C290.7,179.0 296.4,180.0 302.1,183.2C307.8,186.5 313.5,193.1 319.2,194.6C324.9,196.1 330.6,191.7 336.3,192.1C342.0,192.6 347.7,194.1 353.4,197.3C359.1,200.5 364.7,207.6 370.4,211.3C376.1,215.0 381.8,214.9 387.5,219.4C393.2,223.9 398.9,233.6 404.6,238.4C410.3,243.2 416.0,245.7 421.7,248.4C427.4,251.0 433.1,252.2 438.8,254.3C444.5,256.4 450.1,257.7 455.8,260.8C461.5,263.9 467.2,271.4 472.9,273.0C478.6,274.6 484.3,270.0 490.0,270.3C495.7,270.6 501.4,274.8 507.1,274.8C512.8,274.8 518.5,273.1 524.2,270.5C529.9,267.9 535.5,260.8 541.2,259.5C546.9,258.2 552.6,262.8 558.3,263.0C564.0,263.2 569.7,260.5 575.4,260.8C581.1,261.0 586.8,264.6 592.5,264.5C598.2,264.4 603.9,262.5 609.6,260.1C615.3,257.7 620.9,253.9 626.6,250.2C632.3,246.5 638.0,239.2 643.7,237.8C649.4,236.3 655.1,240.1 660.8,241.5C666.5,242.9 672.2,246.0 677.9,246.3C683.6,246.6 689.3,244.7 695.0,243.2C700.7,241.7 706.3,240.0 712.0,237.2C717.7,234.4 723.4,228.6 729.1,226.6C734.8,224.6 740.5,226.1 746.2,225.4C751.9,224.6 757.6,222.5 763.3,222.1C769.0,221.7 774.7,223.4 780.4,222.9C786.1,222.4 791.7,219.2 797.4,219.2C803.1,219.2 808.8,221.7 814.5,223.1C820.2,224.5 825.9,228.4 831.6,227.6C837.3,226.8 843.0,220.2 848.7,218.5C854.4,216.8 860.1,217.7 865.8,217.7C871.5,217.7 877.1,219.9 882.8,218.7C888.5,217.5 894.2,211.9 899.9,210.5C905.6,209.1 911.3,211.5 917.0,210.1C922.7,208.8 928.4,204.5 934.1,202.4C939.8,200.2 945.5,199.2 951.2,197.2C956.9,195.2 962.5,192.3 968.2,190.6C973.9,188.9 979.6,189.0 985.3,187.1C991.0,185.2 996.7,180.6 1002.4,179.0C1008.1,177.4 1013.8,179.5 1019.5,177.4C1025.2,175.3 1030.9,169.6 1036.6,166.6C1042.3,163.6 1047.9,162.0 1053.6,159.2C1059.3,156.4 1065.0,153.0 1070.7,150.0C1076.4,147.0 1082.1,143.9 1087.8,141.5C1093.5,139.1 1099.2,136.7 1104.9,135.4C1110.6,134.1 1116.3,133.1 1122.0,133.6C1127.7,134.1 1133.3,139.8 1139.0,138.5C1144.7,137.2 1150.4,129.6 1156.1,125.9C1161.8,122.2 1167.5,119.2 1173.2,116.1C1178.9,113.0 1184.6,111.2 1190.3,107.2C1196.0,103.2 1201.7,95.4 1207.4,92.2C1213.1,89.1 1218.7,90.1 1224.4,88.3C1230.1,86.5 1235.8,84.0 1241.5,81.6C1247.2,79.2 1252.9,75.7 1258.6,73.7C1264.3,71.7 1270.0,70.5 1275.7,69.4C1281.4,68.2 1287.1,68.3 1292.8,66.8C1298.5,65.2 1304.1,61.7 1309.8,60.1C1315.5,58.5 1321.2,58.9 1326.9,57.4C1332.6,55.9 1338.3,52.9 1344.0,50.9C1349.7,48.9 1355.4,47.1 1361.1,45.4C1366.8,43.7 1372.5,41.1 1378.2,40.6C1383.9,40.1 1389.5,41.3 1395.2,42.6C1400.9,44.0 1409.5,47.7 1412.3,48.7" fill="none" stroke="#dfe6f3" stroke-width="8" stroke-linecap="round" opacity=".35"/>
<path d="M63.0,161.3C65.8,161.7 74.4,162.8 80.1,164.0C85.8,165.2 91.5,167.6 97.2,168.7C102.9,169.8 108.5,170.7 114.2,170.4C119.9,170.1 125.6,168.2 131.3,166.9C137.0,165.6 142.7,164.6 148.4,162.5C154.1,160.4 159.8,155.7 165.5,154.4C171.2,153.1 176.9,154.9 182.6,154.9C188.3,154.9 193.9,155.1 199.6,154.6C205.3,154.2 211.0,152.8 216.7,152.2C222.4,151.7 228.1,150.3 233.8,151.3C239.5,152.3 245.2,157.0 250.9,158.4C256.6,159.8 262.3,157.0 268.0,159.8C273.7,162.6 279.3,171.2 285.0,175.1C290.7,179.0 296.4,180.0 302.1,183.2C307.8,186.5 313.5,193.1 319.2,194.6C324.9,196.1 330.6,191.7 336.3,192.1C342.0,192.6 347.7,194.1 353.4,197.3C359.1,200.5 364.7,207.6 370.4,211.3C376.1,215.0 381.8,214.9 387.5,219.4C393.2,223.9 398.9,233.6 404.6,238.4C410.3,243.2 416.0,245.7 421.7,248.4C427.4,251.0 433.1,252.2 438.8,254.3C444.5,256.4 450.1,257.7 455.8,260.8C461.5,263.9 467.2,271.4 472.9,273.0C478.6,274.6 484.3,270.0 490.0,270.3C495.7,270.6 501.4,274.8 507.1,274.8C512.8,274.8 518.5,273.1 524.2,270.5C529.9,267.9 535.5,260.8 541.2,259.5C546.9,258.2 552.6,262.8 558.3,263.0C564.0,263.2 569.7,260.5 575.4,260.8C581.1,261.0 586.8,264.6 592.5,264.5C598.2,264.4 603.9,262.5 609.6,260.1C615.3,257.7 620.9,253.9 626.6,250.2C632.3,246.5 638.0,239.2 643.7,237.8C649.4,236.3 655.1,240.1 660.8,241.5C666.5,242.9 672.2,246.0 677.9,246.3C683.6,246.6 689.3,244.7 695.0,243.2C700.7,241.7 706.3,240.0 712.0,237.2C717.7,234.4 723.4,228.6 729.1,226.6C734.8,224.6 740.5,226.1 746.2,225.4C751.9,224.6 757.6,222.5 763.3,222.1C769.0,221.7 774.7,223.4 780.4,222.9C786.1,222.4 791.7,219.2 797.4,219.2C803.1,219.2 808.8,221.7 814.5,223.1C820.2,224.5 825.9,228.4 831.6,227.6C837.3,226.8 843.0,220.2 848.7,218.5C854.4,216.8 860.1,217.7 865.8,217.7C871.5,217.7 877.1,219.9 882.8,218.7C888.5,217.5 894.2,211.9 899.9,210.5C905.6,209.1 911.3,211.5 917.0,210.1C922.7,208.8 928.4,204.5 934.1,202.4C939.8,200.2 945.5,199.2 951.2,197.2C956.9,195.2 962.5,192.3 968.2,190.6C973.9,188.9 979.6,189.0 985.3,187.1C991.0,185.2 996.7,180.6 1002.4,179.0C1008.1,177.4 1013.8,179.5 1019.5,177.4C1025.2,175.3 1030.9,169.6 1036.6,166.6C1042.3,163.6 1047.9,162.0 1053.6,159.2C1059.3,156.4 1065.0,153.0 1070.7,150.0C1076.4,147.0 1082.1,143.9 1087.8,141.5C1093.5,139.1 1099.2,136.7 1104.9,135.4C1110.6,134.1 1116.3,133.1 1122.0,133.6C1127.7,134.1 1133.3,139.8 1139.0,138.5C1144.7,137.2 1150.4,129.6 1156.1,125.9C1161.8,122.2 1167.5,119.2 1173.2,116.1C1178.9,113.0 1184.6,111.2 1190.3,107.2C1196.0,103.2 1201.7,95.4 1207.4,92.2C1213.1,89.1 1218.7,90.1 1224.4,88.3C1230.1,86.5 1235.8,84.0 1241.5,81.6C1247.2,79.2 1252.9,75.7 1258.6,73.7C1264.3,71.7 1270.0,70.5 1275.7,69.4C1281.4,68.2 1287.1,68.3 1292.8,66.8C1298.5,65.2 1304.1,61.7 1309.8,60.1C1315.5,58.5 1321.2,58.9 1326.9,57.4C1332.6,55.9 1338.3,52.9 1344.0,50.9C1349.7,48.9 1355.4,47.1 1361.1,45.4C1366.8,43.7 1372.5,41.1 1378.2,40.6C1383.9,40.1 1389.5,41.3 1395.2,42.6C1400.9,44.0 1409.5,47.7 1412.3,48.7" fill="none" stroke="#5782ba" stroke-width="3" stroke-linejoin="round"/>
<circle cx="63.0" cy="161.3" r="9.5" fill="#5782ba" opacity=".07"/>
<circle cx="80.1" cy="164.0" r="9.5" fill="#5782ba" opacity=".07"/>
<circle cx="97.2" cy="168.7" r="9.5" fill="#5782ba" opacity=".07"/>
<circle cx="114.2" cy="170.4" r="9.5" fill="#5782ba" opacity=".07"/>
<circle cx="131.3" cy="166.9" r="9.5" fill="#5782ba" opacity=".07"/>
<circle cx="148.4" cy="162.5" r="9.5" fill="#f35d5d" opacity=".07"/>
<circle cx="165.5" cy="154.4" r="9.5" fill="#5782ba" opacity=".07"/>
<circle cx="182.6" cy="154.9" r="9.5" fill="#f35d5d" opacity=".07"/>
<circle cx="199.6" cy="154.6" r="9.5" fill="#5782ba" opacity=".07"/>
<circle cx="216.7" cy="152.2" r="9.5" fill="#5782ba" opacity=".07"/>
<circle cx="233.8" cy="151.3" r="9.5" fill="#5782ba" opacity=".07"/>
<circle cx="250.9" cy="158.4" r="9.5" fill="#f35d5d" opacity=".07"/>
<circle cx="268.0" cy="159.8" r="9.5" fill="#f35d5d" opacity=".07"/>
<circle cx="285.0" cy="175.1" r="9.5" fill="#f35d5d" opacity=".07"/>
<circle cx="302.1" cy="183.2" r="9.5" fill="#5782ba" opacity=".07"/>
<circle cx="319.2" cy="194.6" r="9.5" fill="#f35d5d" opacity=".07"/>
<circle cx="336.3" cy="192.1" r="9.5" fill="#5782ba" opacity=".07"/>
<circle cx="353.4" cy="197.3" r="9.5" fill="#5782ba" opacity=".07"/>
<circle cx="370.4" cy="211.3" r="9.5" fill="#f35d5d" opacity=".07"/>
<circle cx="387.5" cy="219.4" r="9.5" fill="#f35d5d" opacity=".07"/>
<circle cx="404.6" cy="238.4" r="9.5" fill="#f35d5d" opacity=".07"/>
<circle cx="421.7" cy="248.4" r="9.5" fill="#f35d5d" opacity=".07"/>
<circle cx="438.8" cy="254.3" r="9.5" fill="#f35d5d" opacity=".07"/>
<circle cx="455.8" cy="260.8" r="9.5" fill="#f35d5d" opacity=".07"/>
<circle cx="472.9" cy="273.0" r="9.5" fill="#f35d5d" opacity=".07"/>
<circle cx="490.0" cy="270.3" r="9.5" fill="#f35d5d" opacity=".07"/>
<circle cx="507.1" cy="274.8" r="9.5" fill="#f35d5d" opacity=".07"/>
<circle cx="524.2" cy="270.5" r="9.5" fill="#5782ba" opacity=".07"/>
<circle cx="541.2" cy="259.5" r="9.5" fill="#5782ba" opacity=".07"/>
<circle cx="558.3" cy="263.0" r="9.5" fill="#f35d5d" opacity=".07"/>
<circle cx="575.4" cy="260.8" r="9.5" fill="#5782ba" opacity=".07"/>
<circle cx="592.5" cy="264.5" r="9.5" fill="#f35d5d" opacity=".07"/>
<circle cx="609.6" cy="260.1" r="9.5" fill="#5782ba" opacity=".07"/>
<circle cx="626.6" cy="250.2" r="9.5" fill="#5782ba" opacity=".07"/>
<circle cx="643.7" cy="237.8" r="9.5" fill="#5782ba" opacity=".07"/>
<circle cx="660.8" cy="241.5" r="9.5" fill="#f35d5d" opacity=".07"/>
<circle cx="677.9" cy="246.3" r="9.5" fill="#f35d5d" opacity=".07"/>
<circle cx="695.0" cy="243.2" r="9.5" fill="#f35d5d" opacity=".07"/>
<circle cx="712.0" cy="237.2" r="9.5" fill="#5782ba" opacity=".07"/>
<circle cx="729.1" cy="226.6" r="9.5" fill="#5782ba" opacity=".07"/>
<circle cx="746.2" cy="225.4" r="9.5" fill="#f35d5d" opacity=".07"/>
<circle cx="763.3" cy="222.1" r="9.5" fill="#f35d5d" opacity=".07"/>
<circle cx="780.4" cy="222.9" r="9.5" fill="#f35d5d" opacity=".07"/>
<circle cx="797.4" cy="219.2" r="9.5" fill="#f35d5d" opacity=".07"/>
<circle cx="814.5" cy="223.1" r="9.5" fill="#f35d5d" opacity=".07"/>
<circle cx="831.6" cy="227.6" r="9.5" fill="#5782ba" opacity=".07"/>
<circle cx="848.7" cy="218.5" r="9.5" fill="#5782ba" opacity=".07"/>
<circle cx="865.8" cy="217.7" r="9.5" fill="#f35d5d" opacity=".07"/>
<circle cx="882.8" cy="218.7" r="9.5" fill="#f35d5d" opacity=".07"/>
<circle cx="899.9" cy="210.5" r="9.5" fill="#5782ba" opacity=".07"/>
<circle cx="917.0" cy="210.1" r="9.5" fill="#f35d5d" opacity=".07"/>
<circle cx="934.1" cy="202.4" r="9.5" fill="#5782ba" opacity=".07"/>
<circle cx="951.2" cy="197.2" r="9.5" fill="#f35d5d" opacity=".07"/>
<circle cx="968.2" cy="190.6" r="9.5" fill="#5782ba" opacity=".07"/>
<circle cx="985.3" cy="187.1" r="9.5" fill="#5782ba" opacity=".07"/>
<circle cx="1002.4" cy="179.0" r="9.5" fill="#f35d5d" opacity=".07"/>
<circle cx="1019.5" cy="177.4" r="9.5" fill="#5782ba" opacity=".07"/>
<circle cx="1036.6" cy="166.6" r="9.5" fill="#5782ba" opacity=".07"/>
<circle cx="1053.6" cy="159.2" r="9.5" fill="#5782ba" opacity=".07"/>
<circle cx="1070.7" cy="150.0" r="9.5" fill="#5782ba" opacity=".07"/>
<circle cx="1087.8" cy="141.5" r="9.5" fill="#5782ba" opacity=".07"/>
<circle cx="1104.9" cy="135.4" r="9.5" fill="#5782ba" opacity=".07"/>
<circle cx="1122.0" cy="133.6" r="9.5" fill="#5782ba" opacity=".07"/>
<circle cx="1139.0" cy="138.5" r="9.5" fill="#f35d5d" opacity=".07"/>
<circle cx="1156.1" cy="125.9" r="9.5" fill="#5782ba" opacity=".07"/>
<circle cx="1173.2" cy="116.1" r="9.5" fill="#5782ba" opacity=".07"/>
<circle cx="1190.3" cy="107.2" r="9.5" fill="#5782ba" opacity=".07"/>
<circle cx="1207.4" cy="92.2" r="9.5" fill="#5782ba" opacity=".07"/>
<circle cx="1224.4" cy="88.3" r="9.5" fill="#5782ba" opacity=".07"/>
<circle cx="1241.5" cy="81.6" r="9.5" fill="#f35d5d" opacity=".07"/>
<circle cx="1258.6" cy="73.7" r="9.5" fill="#5782ba" opacity=".07"/>
<circle cx="1275.7" cy="69.4" r="9.5" fill="#f35d5d" opacity=".07"/>
<circle cx="1292.8" cy="66.8" r="9.5" fill="#5782ba" opacity=".07"/>
<circle cx="1309.8" cy="60.1" r="9.5" fill="#5782ba" opacity=".07"/>
<circle cx="1326.9" cy="57.4" r="9.5" fill="#f35d5d" opacity=".07"/>
<circle cx="1344.0" cy="50.9" r="9.5" fill="#5782ba" opacity=".07"/>
<circle cx="1361.1" cy="45.4" r="9.5" fill="#5782ba" opacity=".07"/>
<circle cx="1378.2" cy="40.6" r="9.5" fill="#5782ba" opacity=".07"/>
<circle cx="1395.2" cy="42.6" r="9.5" fill="#f35d5d" opacity=".07"/>
<circle cx="1412.3" cy="48.7" r="9.5" fill="#f35d5d" opacity=".07"/>
<circle cx="63.0" cy="161.3" r="7.3" fill="#5782ba"/><circle cx="63.0" cy="161.3" r="1.8" fill="#fff"/>
<circle cx="80.1" cy="164.0" r="7.3" fill="#5782ba"/><circle cx="80.1" cy="164.0" r="1.8" fill="#fff"/>
<circle cx="97.2" cy="168.7" r="7.3" fill="#5782ba"/><circle cx="97.2" cy="168.7" r="1.8" fill="#fff"/>
<circle cx="114.2" cy="170.4" r="7.3" fill="#5782ba"/><circle cx="114.2" cy="170.4" r="1.8" fill="#fff"/>
<circle cx="131.3" cy="166.9" r="7.3" fill="#5782ba"/><circle cx="131.3" cy="166.9" r="1.8" fill="#fff"/>
<circle cx="148.4" cy="162.5" r="7.3" fill="#f35d5d"/><circle cx="148.4" cy="162.5" r="1.8" fill="#fff"/>
<circle cx="165.5" cy="154.4" r="7.3" fill="#5782ba"/><circle cx="165.5" cy="154.4" r="1.8" fill="#fff"/>
<circle cx="182.6" cy="154.9" r="7.3" fill="#f35d5d"/><circle cx="182.6" cy="154.9" r="1.8" fill="#fff"/>
<circle cx="199.6" cy="154.6" r="7.3" fill="#5782ba"/><circle cx="199.6" cy="154.6" r="1.8" fill="#fff"/>
<circle cx="216.7" cy="152.2" r="7.3" fill="#5782ba"/><circle cx="216.7" cy="152.2" r="1.8" fill="#fff"/>
<circle cx="233.8" cy="151.3" r="7.3" fill="#5782ba"/><circle cx="233.8" cy="151.3" r="1.8" fill="#fff"/>
<circle cx="250.9" cy="158.4" r="7.3" fill="#f35d5d"/><circle cx="250.9" cy="158.4" r="1.8" fill="#fff"/>
<circle cx="268.0" cy="159.8" r="7.3" fill="#f35d5d"/><circle cx="268.0" cy="159.8" r="1.8" fill="#fff"/>
<circle cx="285.0" cy="175.1" r="7.3" fill="#f35d5d"/><circle cx="285.0" cy="175.1" r="1.8" fill="#fff"/>
<circle cx="302.1" cy="183.2" r="7.3" fill="#5782ba"/><circle cx="302.1" cy="183.2" r="1.8" fill="#fff"/>
<circle cx="319.2" cy="194.6" r="7.3" fill="#f35d5d"/><circle cx="319.2" cy="194.6" r="1.8" fill="#fff"/>
<circle cx="336.3" cy="192.1" r="7.3" fill="#5782ba"/><circle cx="336.3" cy="192.1" r="1.8" fill="#fff"/>
<circle cx="353.4" cy="197.3" r="7.3" fill="#5782ba"/><circle cx="353.4" cy="197.3" r="1.8" fill="#fff"/>
<circle cx="370.4" cy="211.3" r="7.3" fill="#f35d5d"/><circle cx="370.4" cy="211.3" r="1.8" fill="#fff"/>
<circle cx="387.5" cy="219.4" r="7.3" fill="#f35d5d"/><circle cx="387.5" cy="219.4" r="1.8" fill="#fff"/>
<circle cx="404.6" cy="238.4" r="7.3" fill="#f35d5d"/><circle cx="404.6" cy="238.4" r="1.8" fill="#fff"/>
<circle cx="421.7" cy="248.4" r="7.3" fill="#f35d5d"/><circle cx="421.7" cy="248.4" r="1.8" fill="#fff"/>
<circle cx="438.8" cy="254.3" r="7.3" fill="#f35d5d"/><circle cx="438.8" cy="254.3" r="1.8" fill="#fff"/>
<circle cx="455.8" cy="260.8" r="7.3" fill="#f35d5d"/><circle cx="455.8" cy="260.8" r="1.8" fill="#fff"/>
<circle cx="472.9" cy="273.0" r="7.3" fill="#f35d5d"/><circle cx="472.9" cy="273.0" r="1.8" fill="#fff"/>
<circle cx="490.0" cy="270.3" r="7.3" fill="#f35d5d"/><circle cx="490.0" cy="270.3" r="1.8" fill="#fff"/>
<circle cx="507.1" cy="274.8" r="7.3" fill="#f35d5d"/><circle cx="507.1" cy="274.8" r="1.8" fill="#fff"/>
<circle cx="524.2" cy="270.5" r="7.3" fill="#5782ba"/><circle cx="524.2" cy="270.5" r="1.8" fill="#fff"/>
<circle cx="541.2" cy="259.5" r="7.3" fill="#5782ba"/><circle cx="541.2" cy="259.5" r="1.8" fill="#fff"/>
<circle cx="558.3" cy="263.0" r="7.3" fill="#f35d5d"/><circle cx="558.3" cy="263.0" r="1.8" fill="#fff"/>
<circle cx="575.4" cy="260.8" r="7.3" fill="#5782ba"/><circle cx="575.4" cy="260.8" r="1.8" fill="#fff"/>
<circle cx="592.5" cy="264.5" r="7.3" fill="#f35d5d"/><circle cx="592.5" cy="264.5" r="1.8" fill="#fff"/>
<circle cx="609.6" cy="260.1" r="7.3" fill="#5782ba"/><circle cx="609.6" cy="260.1" r="1.8" fill="#fff"/>
<circle cx="626.6" cy="250.2" r="7.3" fill="#5782ba"/><circle cx="626.6" cy="250.2" r="1.8" fill="#fff"/>
<circle cx="643.7" cy="237.8" r="7.3" fill="#5782ba"/><circle cx="643.7" cy="237.8" r="1.8" fill="#fff"/>
<circle cx="660.8" cy="241.5" r="7.3" fill="#f35d5d"/><circle cx="660.8" cy="241.5" r="1.8" fill="#fff"/>
<circle cx="677.9" cy="246.3" r="7.3" fill="#f35d5d"/><circle cx="677.9" cy="246.3" r="1.8" fill="#fff"/>
<circle cx="695.0" cy="243.2" r="7.3" fill="#f35d5d"/><circle cx="695.0" cy="243.2" r="1.8" fill="#fff"/>
<circle cx="712.0" cy="237.2" r="7.3" fill="#5782ba"/><circle cx="712.0" cy="237.2" r="1.8" fill="#fff"/>
<circle cx="729.1" cy="226.6" r="7.3" fill="#5782ba"/><circle cx="729.1" cy="226.6" r="1.8" fill="#fff"/>
<circle cx="746.2" cy="225.4" r="7.3" fill="#f35d5d"/><circle cx="746.2" cy="225.4" r="1.8" fill="#fff"/>
<circle cx="763.3" cy="222.1" r="7.3" fill="#f35d5d"/><circle cx="763.3" cy="222.1" r="1.8" fill="#fff"/>
<circle cx="780.4" cy="222.9" r="7.3" fill="#f35d5d"/><circle cx="780.4" cy="222.9" r="1.8" fill="#fff"/>
<circle cx="797.4" cy="219.2" r="7.3" fill="#f35d5d"/><circle cx="797.4" cy="219.2" r="1.8" fill="#fff"/>
<circle cx="814.5" cy="223.1" r="7.3" fill="#f35d5d"/><circle cx="814.5" cy="223.1" r="1.8" fill="#fff"/>
<circle cx="831.6" cy="227.6" r="7.3" fill="#5782ba"/><circle cx="831.6" cy="227.6" r="1.8" fill="#fff"/>
<circle cx="848.7" cy="218.5" r="7.3" fill="#5782ba"/><circle cx="848.7" cy="218.5" r="1.8" fill="#fff"/>
<circle cx="865.8" cy="217.7" r="7.3" fill="#f35d5d"/><circle cx="865.8" cy="217.7" r="1.8" fill="#fff"/>
<circle cx="882.8" cy="218.7" r="7.3" fill="#f35d5d"/><circle cx="882.8" cy="218.7" r="1.8" fill="#fff"/>
<circle cx="899.9" cy="210.5" r="7.3" fill="#5782ba"/><circle cx="899.9" cy="210.5" r="1.8" fill="#fff"/>
<circle cx="917.0" cy="210.1" r="7.3" fill="#f35d5d"/><circle cx="917.0" cy="210.1" r="1.8" fill="#fff"/>
<circle cx="934.1" cy="202.4" r="7.3" fill="#5782ba"/><circle cx="934.1" cy="202.4" r="1.8" fill="#fff"/>
<circle cx="951.2" cy="197.2" r="7.3" fill="#f35d5d"/><circle cx="951.2" cy="197.2" r="1.8" fill="#fff"/>
<circle cx="968.2" cy="190.6" r="7.3" fill="#5782ba"/><circle cx="968.2" cy="190.6" r="1.8" fill="#fff"/>
<circle cx="985.3" cy="187.1" r="7.3" fill="#5782ba"/><circle cx="985.3" cy="187.1" r="1.8" fill="#fff"/>
<circle cx="1002.4" cy="179.0" r="7.3" fill="#f35d5d"/><circle cx="1002.4" cy="179.0" r="1.8" fill="#fff"/>
<circle cx="1019.5" cy="177.4" r="7.3" fill="#5782ba"/><circle cx="1019.5" cy="177.4" r="1.8" fill="#fff"/>
<circle cx="1036.6" cy="166.6" r="7.3" fill="#5782ba"/><circle cx="1036.6" cy="166.6" r="1.8" fill="#fff"/>
<circle cx="1053.6" cy="159.2" r="7.3" fill="#5782ba"/><circle cx="1053.6" cy="159.2" r="1.8" fill="#fff"/>
<circle cx="1070.7" cy="150.0" r="7.3" fill="#5782ba"/><circle cx="1070.7" cy="150.0" r="1.8" fill="#fff"/>
<circle cx="1087.8" cy="141.5" r="7.3" fill="#5782ba"/><circle cx="1087.8" cy="141.5" r="1.8" fill="#fff"/>
<circle cx="1104.9" cy="135.4" r="7.3" fill="#5782ba"/><circle cx="1104.9" cy="135.4" r="1.8" fill="#fff"/>
<circle cx="1122.0" cy="133.6" r="7.3" fill="#5782ba"/><circle cx="1122.0" cy="133.6" r="1.8" fill="#fff"/>
<circle cx="1139.0" cy="138.5" r="7.3" fill="#f35d5d"/><circle cx="1139.0" cy="138.5" r="1.8" fill="#fff"/>
<circle cx="1156.1" cy="125.9" r="7.3" fill="#5782ba"/><circle cx="1156.1" cy="125.9" r="1.8" fill="#fff"/>
<circle cx="1173.2" cy="116.1" r="7.3" fill="#5782ba"/><circle cx="1173.2" cy="116.1" r="1.8" fill="#fff"/>
<circle cx="1190.3" cy="107.2" r="7.3" fill="#5782ba"/><circle cx="1190.3" cy="107.2" r="1.8" fill="#fff"/>
<circle cx="1207.4" cy="92.2" r="7.3" fill="#5782ba"/><circle cx="1207.4" cy="92.2" r="1.8" fill="#fff"/>
<circle cx="1224.4" cy="88.3" r="7.3" fill="#5782ba"/><circle cx="1224.4" cy="88.3" r="1.8" fill="#fff"/>
<circle cx="1241.5" cy="81.6" r="7.3" fill="#f35d5d"/><circle cx="1241.5" cy="81.6" r="1.8" fill="#fff"/>
<circle cx="1258.6" cy="73.7" r="7.3" fill="#5782ba"/><circle cx="1258.6" cy="73.7" r="1.8" fill="#fff"/>
<circle cx="1275.7" cy="69.4" r="7.3" fill="#f35d5d"/><circle cx="1275.7" cy="69.4" r="1.8" fill="#fff"/>
<circle cx="1292.8" cy="66.8" r="7.3" fill="#5782ba"/><circle cx="1292.8" cy="66.8" r="1.8" fill="#fff"/>
<circle cx="1309.8" cy="60.1" r="7.3" fill="#5782ba"/><circle cx="1309.8" cy="60.1" r="1.8" fill="#fff"/>
<circle cx="1326.9" cy="57.4" r="7.3" fill="#f35d5d"/><circle cx="1326.9" cy="57.4" r="1.8" fill="#fff"/>
<circle cx="1344.0" cy="50.9" r="7.3" fill="#5782ba"/><circle cx="1344.0" cy="50.9" r="1.8" fill="#fff"/>
<circle cx="1361.1" cy="45.4" r="7.3" fill="#5782ba"/><circle cx="1361.1" cy="45.4" r="1.8" fill="#fff"/>
<circle cx="1378.2" cy="40.6" r="7.3" fill="#5782ba"/><circle cx="1378.2" cy="40.6" r="1.8" fill="#fff"/>
<circle cx="1395.2" cy="42.6" r="7.3" fill="#f35d5d"/><circle cx="1395.2" cy="42.6" r="1.8" fill="#fff"/>
<circle cx="1412.3" cy="48.7" r="7.3" fill="#f35d5d"/><circle cx="1412.3" cy="48.7" r="1.8" fill="#fff"/>
<circle cx="1378.8" cy="18.200000000000045" r="2.6" fill="#c2c5ca"/>
<circle cx="1378.8" cy="31.399999999999977" r="2.6" fill="#7f97c2"/>
</svg>
    <div class="yl mono" style="top:3px">1059.29</div>
    <div class="yl mono" style="top:77px">1041.28</div>
    <div class="yl mono" style="top:151px">1023.28</div>
    <div class="yl mono" style="top:225px">1005.28</div>
    <div class="yl mono" style="top:299px">987.27</div>
    <div class="xl mono" style="left:63px">1/6</div>
    <div class="xl mono" style="left:165.5px">1/12</div>
    <div class="xl mono" style="left:268px">1/18</div>
    <div class="xl mono" style="left:370.4px">1/24</div>
    <div class="xl mono" style="left:472.900px">1/30</div>
    <div class="xl mono" style="left:575.400px">2/5</div>
    <div class="xl mono" style="left:677.900px">2/11</div>
    <div class="xl mono" style="left:780.400px">2/17</div>
    <div class="xl mono" style="left:882.800px">2/23</div>
    <div class="xl mono" style="left:985.300px">3/1</div>
    <div class="xl mono" style="left:1087.800px">3/7</div>
    <div class="xl mono" style="left:1190.300px">3/13</div>
    <div class="xl mono" style="left:1292.700px">3/19</div>
    <div class="xl mono" style="left:1395.200px">3/25</div>
    <div class="abs mono" style="left:830px;top:365px;width:38px;height:15px;background:#fbfbfc;color:#7d828c;font-size:12px;line-height:15px;text-align:center">2/21</div>
    <div class="mal" style="top:19px">MA20</div>
    <div class="mal" style="top:33px">MA10</div>
    <div class="mal" style="top:47px">MA5</div>
    <div class="abs" style="left:1333.500px;top:208.500px;width:76.500px;height:19.500px;border-radius:4px;background:#fdfdfe;box-shadow:0 0 3px rgba(0,0,0,.08);color:#6a84b2;font-size:12.5px;font-weight:700;line-height:20px;text-align:center;letter-spacing:.5px">1008.34</div>
    <div class="abs" style="left:1333px;top:231px;font-size:10.200px;line-height:10px;color:#8596b8;white-space:nowrap">MA5:1007.40</div>
    <div class="abs" style="left:1333px;top:241px;font-size:10.200px;line-height:10px;color:#a3b0c8;white-space:nowrap">MA10:1006.35</div>
    <div class="abs" style="left:1333px;top:250.500px;font-size:10.200px;line-height:10px;color:#c2c7d0;white-space:nowrap">MA20:1002.83</div>
  </div>
</div>

<!-- BOTTOM PANELS -->
<style>
.bp{position:absolute;top:1086px;width:726px;height:230px;border-radius:13.5px 13.5px 0 0;background:linear-gradient(180deg,#121829,#101625);border:1px solid #1c2334;border-bottom:none}
.bp .h{position:absolute;top:21px;font-size:14px;font-weight:700;color:#f1f3f8;line-height:18px;white-space:nowrap}
.bp .hs{position:absolute;top:23.5px;font-size:11px;color:#7d8496;line-height:14px;white-space:nowrap}
.it{position:absolute;left:20px;width:686px;height:52px;border-radius:10px;background:#1b1a2a;border-left:3px solid #e0525a}
.it .ic{position:absolute;left:18px;top:11px;width:22px;height:22px;background:#1b7fd8;border:1px solid #0d2f55;box-shadow:0 1px 2px rgba(0,0,0,.5)}
.it .t{position:absolute;left:56px;top:11px;font-size:12px;font-weight:700;color:#f4f5f9;line-height:16px;white-space:nowrap}
.it .d{position:absolute;left:56px;top:29px;font-size:11px;color:#7f8595;line-height:14px;white-space:nowrap}
.it .tm{position:absolute;right:16.500px;top:10.500px;font-size:9.800px;color:#8d93a3;line-height:12px;white-space:nowrap}
.sc{position:absolute;left:20px;width:684px;border-radius:10px;background:#19213400;background-color:#1a2134;border:1px solid #1f273b}
.sc .l{position:absolute;left:12px;top:14px;font-size:12px;font-weight:700;color:#f4f5f9;line-height:16px;white-space:nowrap}
.sc .tr{position:absolute;left:12px;top:36px;width:660px;height:8px;border-radius:4px;background:#0c111e}
.sc .fl{position:absolute;left:0;top:0;height:8px;border-radius:4px}
</style>
<div class="bp" style="left:157px">
  <svg class="abs" style="left:22px;top:23px" width="15" height="14" viewBox="0 0 15 14"><rect x=".5" y=".5" width="14" height="13" fill="#eef0f3" stroke="#c5c9d1"/><rect x="2.500" y="6" width="2.600" height="7" fill="#2faa5a"/><rect x="6.200" y="3" width="2.600" height="10" fill="#e5484d"/><rect x="9.900" y="5" width="2.600" height="8" fill="#e8a52a"/></svg>
  <div class="h" style="left:42px">主力动向</div>
  <div class="hs" style="left:106px">AI智能分析</div>
  <div class="it" style="top:55.5px"><div class="ic"><svg width="20" height="20" viewBox="0 0 20 20"><path d="M10 4.500v10M6.800 11.500L10 15l3.200-3.500" stroke="#fff" stroke-width="1.800" fill="none" stroke-linecap="round" stroke-linejoin="round"/></svg></div><div class="t">主力空头占优</div><div class="d">金价维持下跌动能，主力空头活跃</div><div class="tm">20:54:50</div></div>
  <div class="it" style="top:116.5px"><div class="ic"><svg width="20" height="20" viewBox="0 0 20 20"><path d="M10 4.500v10M6.800 11.500L10 15l3.200-3.500" stroke="#fff" stroke-width="1.800" fill="none" stroke-linecap="round" stroke-linejoin="round"/></svg></div><div class="t">主力空头</div><div class="d">国内黄金价下跌，监控到下跌信号</div><div class="tm">20:54:30</div></div>
  <div class="it" style="top:177.5px"><div class="ic"><svg width="20" height="20" viewBox="0 0 20 20"><path d="M10 4.500v10M6.800 11.500L10 15l3.200-3.500" stroke="#fff" stroke-width="1.800" fill="none" stroke-linecap="round" stroke-linejoin="round"/></svg></div><div class="t">主力空头</div><div class="d">国内黄金价下跌</div><div class="tm">20:54:21</div></div>
</div>
<div class="bp" style="left:899px">
  <svg class="abs" style="left:22px;top:22.500px" width="14" height="15" viewBox="0 0 14 15"><defs><linearGradient id="shk" x1="0" y1="0" x2="1" y2="0"><stop offset="0" stop-color="#7d8493"/><stop offset="1" stop-color="#c6cad3"/></linearGradient></defs><path d="M.6 2.200C3 .6 9 .2 12.900 1 12.400 2.200 12.300 3 12.100 4 12.900 8.200 9 12.200 3.600 13.300L1.700 14.600 2.800 11.700C6 10.700 8.100 8.500 7.200 6.300 6.300 4.600 3.600 4.900 1.500 5.100 2.500 4.100 2 3 .6 2.200z" fill="url(#shk)"/><path d="M3.200 5c1.400-.1 3.300 0 4 1.300.5 1.100.1 2.300-.9 3.300-.3-1.100-.6-1.700-1.300-2.400C4.400 6.600 3.700 5.900 3.200 5z" fill="#1a1f2e"/></svg>
  <div class="h" style="left:43px">暗金检测</div>
  <div class="hs" style="left:107px">大资金踪迹</div>
  <div class="sc" style="top:54.5px;height:78px">
    <div class="l">大额资金流入强度</div>
    <div class="tr"><div class="fl" style="width:253px;background:linear-gradient(90deg,#f4b922,#f59e0b)"></div></div>
    <div class="abs" style="left:12px;top:52px;font-size:10px;color:#7f8595;line-height:12px">平静</div>
    <div class="abs" style="left:0;width:684px;top:52px;font-size:10px;font-weight:700;color:#f2b21d;line-height:12px;text-align:center">38%</div>
  </div>
  <div class="sc" style="top:142.5px;height:90px">
    <div class="l">机构建仓概率</div>
    <div class="tr"><div class="fl" style="width:407px;background:linear-gradient(90deg,#3f83f5,#8f8be6 60%,#c58ad8)"></div></div>
  </div>
</div>

<!-- FLOATING: avatar + weather -->
<style>
.av{position:absolute;left:15px;top:592px;width:80px;height:80px;border-radius:50%;background:#fdfdff;overflow:hidden;box-shadow:0 7px 24px rgba(200,160,20,.30),0 2px 40px rgba(150,120,20,.10)}
.wx{position:absolute;left:1467px;top:1091px;width:300px;height:175px;border-radius:13px;background:linear-gradient(125deg,#6f88ba 0%,#7568ae 45%,#7c52a8 100%);box-shadow:0 8px 30px rgba(0,0,0,.45);overflow:hidden}
.wx .hd{position:absolute;left:0;top:0;width:100%;height:49px;border-bottom:1px solid rgba(255,255,255,.22)}
.wx .tt{position:absolute;left:41px;top:14px;font-size:15px;font-weight:700;color:#fff;line-height:20px;white-space:nowrap}
.wx .x{position:absolute;left:260px;top:12px;width:24px;height:24px;border-radius:50%;background:rgba(255,255,255,.2)}
.wx .tp{position:absolute;left:84px;top:66px;font-size:32px;font-weight:700;color:#fff;line-height:36px;letter-spacing:-.3px;white-space:nowrap}
.wx .ds{position:absolute;left:83px;top:110px;font-size:13px;color:#f3f0fa;line-height:16px;white-space:nowrap}
.wx .k{position:absolute;top:135px;font-size:11px;font-weight:700;color:#f1ecfa;line-height:13px;white-space:nowrap}
.wx .v{position:absolute;top:150px;font-size:10.3px;color:#e9e2f6;line-height:13px;white-space:nowrap}
</style>
<div class="av">
<svg width="80" height="80" viewBox="0 0 80 80">
  <path d="M16 80C13 50 14 30 24 20c8-8 24-9 33 0 9 9 9 30 7 48l-4 12z" fill="#4a3b46"/>
  <path d="M22 26c6-10 28-12 36-1 4 6 3 14 2 18-6-4-12-9-16-16-5 8-13 13-22 16-2-5-3-11 0-17z" fill="#2f3a5e"/>
  <path d="M56 28c6 10 6 30 5 46l8-4c2-18-2-34-13-42z" fill="#3c4a7a"/>
  <ellipse cx="40" cy="45" rx="15.500" ry="16" fill="#f3c7b0"/>
  <path d="M24 40c5-2 12-8 16-15 4 7 9 11 16 15-1-9-6-16-16-16s-15 7-16 16z" fill="#2f3554"/>
  <rect x="17" y="38" width="6" height="14" rx="3" fill="#6a6f86"/><rect x="57" y="38" width="6" height="14" rx="3" fill="#6a6f86"/>
  <ellipse cx="33" cy="44" rx="3.300" ry="3.800" fill="#3a2218"/><ellipse cx="47" cy="44" rx="3.300" ry="3.800" fill="#3a2218"/>
  <circle cx="34" cy="43" r="1" fill="#fff"/><circle cx="48" cy="43" r="1" fill="#fff"/>
  <ellipse cx="29" cy="51" rx="3.500" ry="2" fill="#f1a79a" opacity=".7"/><ellipse cx="51" cy="51" rx="3.500" ry="2" fill="#f1a79a" opacity=".7"/>
  <path d="M36 53.500c2 2 6 2 8 0" stroke="#b8665a" stroke-width="1.300" fill="none" stroke-linecap="round"/>
  <path d="M34 60h12v8H34z" fill="#eeb9a2"/>
  <path d="M18 80c1-9 8-14 16-15l6 7 6-7c8 1 14 6 15 15z" fill="#e9e2ea"/>
  <path d="M34 65l6 8 6-8-3-2-3 5-3-5z" fill="#f6efe9"/>
</svg>
</div>
<div class="wx">
  <div class="hd"></div>
  <svg class="abs" style="left:18px;top:16px" width="18" height="17" viewBox="0 0 18 17"><polygon points="8,0.500 9.700,2.600 12.200,1.600 12.500,4.300 15.200,4.600 14.200,7.100 16.300,8.800 14.200,10.500 15.200,13 12.500,13.300 12.200,16 9.700,15 8,16.500 6.300,15 3.800,16 3.500,13.300 0.800,13 1.800,10.500 -0.300,8.800 1.800,7.100 0.800,4.600 3.500,4.300 3.800,1.600 6.300,2.600" fill="#f8c81c" stroke="#20180a" stroke-width="1.300" stroke-linejoin="round"/><path d="M8.500 13.500c0-2.500 2-4 4-4 .5-1.500 3.500-1.500 4 .5 1.500.2 1.500 3.500-.5 3.500z" fill="#f4f4f8" stroke="#fff" stroke-width=".6"/></svg>
  <div class="tt">天气提醒</div>
  <div class="x"><svg width="24" height="24" viewBox="0 0 24 24"><path d="M8.600 8.600l6.800 6.800M15.400 8.600l-6.800 6.800" stroke="#fff" stroke-width="2.200" stroke-linecap="round"/></svg></div>
  <svg class="abs" style="left:20px;top:92px" width="46" height="46" viewBox="-24 -24 48 48"><polygon points="0,-22.500 4.300,-16.200 10.700,-19.800 11.900,-12.200 19.500,-11.300 16.600,-4.100 23,0 16.600,4.100 19.500,11.300 11.900,12.200 10.700,19.800 4.300,16.200 0,22.500 -4.300,16.200 -10.700,19.800 -11.900,12.200 -19.500,11.300 -16.600,4.100 -23,0 -16.600,-4.100 -19.500,-11.300 -11.900,-12.200 -10.700,-19.800 -4.300,-16.200" fill="#fbd20f" stroke="#120d04" stroke-width="2.600" stroke-linejoin="round"/><circle cx="3" cy="4" r="11" fill="#f5b21a" opacity=".45"/></svg>
  <div class="tp">15.7°C</div>
  <div class="ds">今日天气凉爽，适宜出行</div>
  <svg class="abs" style="left:83px;top:136px" width="10" height="12" viewBox="0 0 10 12"><path d="M5 .8C6.500 3.500 9 5.500 9 8a4 4 0 0 1-8 0c0-2.500 2.500-4.500 4-7.200z" fill="#2f9bea" stroke="#154a86" stroke-width=".8"/></svg>
  <div class="k" style="left:96px">湿度:</div><div class="v" style="left:84px">54%</div>
  <svg class="abs" style="left:148px;top:137px" width="13" height="10" viewBox="0 0 13 10"><circle cx="8.500" cy="5" r="4.200" fill="#f2f2f6" stroke="#4a4660" stroke-width=".7"/><path d="M.5 3h4M0 5.200h5M1 7.400h3.500" stroke="#3a3650" stroke-width="1.100" stroke-linecap="round"/></svg>
  <div class="k" style="left:165px">风速:</div><div class="v" style="left:147px">5.3m/s</div>
  <svg class="abs" style="left:227px;top:135px" width="7" height="14" viewBox="0 0 7 14"><rect x="2.200" y="1" width="2.600" height="9" rx="1.300" fill="#e9d6dc" stroke="#4a2a3a" stroke-width=".7"/><rect x="3" y="4.500" width="1" height="5.500" fill="#e2574f"/><circle cx="3.500" cy="11" r="2" fill="#e2574f" stroke="#4a2a3a" stroke-width=".7"/></svg>
  <div class="k" style="left:237px">体感:</div><div class="v" style="left:226px">14.0°C</div>
</div>

</body>
</html>
